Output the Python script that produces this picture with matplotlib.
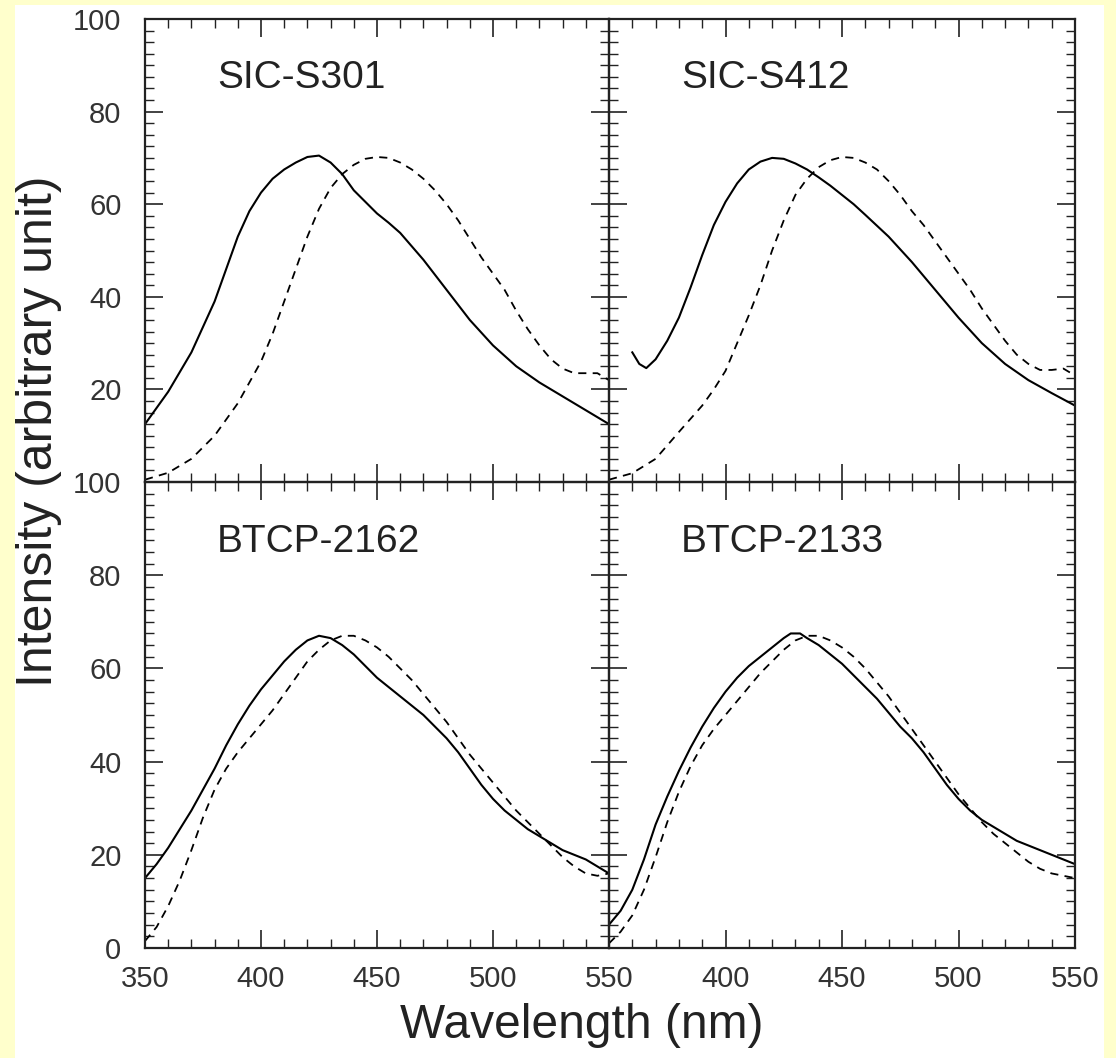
import matplotlib
matplotlib.use('Agg')
import matplotlib.pyplot as plt
from matplotlib.ticker import MultipleLocator
from matplotlib.patches import Rectangle

plt.rcParams['font.family'] = ['Liberation Sans', 'DejaVu Sans']

# espectros (comprimento de onda em nm, intensidade)
# SIC-S301
wl_s301 = [350, 360, 370, 380, 385, 390, 395, 400, 405, 410, 415, 420, 425,
           430, 435, 440, 445, 450, 455, 460, 470, 480, 490, 500, 510, 520,
           530, 540, 550]
em_s301 = [12.5, 19.5, 28, 39, 46, 53, 58.5, 62.5, 65.5, 67.5, 69, 70.2, 70.5,
           69, 66.5, 63, 60.5, 58, 56, 53.8, 48, 41.5, 35, 29.5, 25, 21.5,
           18.5, 15.5, 12.5]
wl_s301_d = [350, 360, 370, 380, 390, 400, 405, 410, 415, 420, 425, 430, 435,
             440, 445, 450, 455, 460, 465, 470, 475, 480, 485, 490, 495, 500,
             505, 510, 515, 520, 525, 530, 535, 540, 545, 550]
ex_s301 = [0.5, 2, 5, 10, 17, 26, 32, 39, 46, 53, 59, 63.5, 66.5,
           68.5, 69.8, 70.2, 70, 69, 67.5, 65.5, 63, 60, 56.5, 52.5, 48.5, 45,
           41.5, 37, 33, 29.5, 26.5, 24.5, 23.5, 23.5, 23.5, 22]

# SIC-S412
wl_s412 = [360, 363, 366, 370, 375, 380, 385, 390, 395, 400, 405, 410, 415,
           420, 425, 430, 435, 440, 445, 450, 455, 460, 470, 480, 490, 500,
           510, 520, 530, 540, 550]
em_s412 = [28, 25.5, 24.6, 26.5, 30.5, 35.5, 42, 49, 55.5, 60.5, 64.5, 67.5, 69.2,
           70, 69.8, 68.8, 67.5, 65.8, 64, 62, 60, 57.7, 53, 47.5, 41.5, 35.5,
           30, 25.5, 22, 19.2, 16.5]
wl_s412_d = [350, 360, 370, 380, 390, 395, 400, 405, 410, 415, 420, 425, 430,
             435, 440, 445, 450, 455, 460, 465, 470, 475, 480, 485, 490, 495,
             500, 505, 510, 515, 520, 525, 530, 535, 540, 545, 550]
ex_s412 = [0.5, 1.9, 5, 10.8, 16.5, 20, 24, 30, 36, 42.5, 50, 56.5, 62,
           65.5, 68, 69.5, 70.2, 70, 69, 67.5, 65, 62, 58.5, 55.5, 52, 48.5,
           45, 41.5, 37.5, 34, 30.5, 27.5, 25.5, 24.2, 24.2, 24.5, 23]

# BTCP-2162
wl_2162 = [350, 355, 360, 365, 370, 375, 380, 385, 390, 395, 400, 405, 410,
           415, 420, 425, 430, 435, 440, 445, 450, 455, 460, 465, 470, 475,
           480, 485, 490, 495, 500, 505, 510, 515, 520, 525, 530, 535, 540,
           545, 550]
em_2162 = [15, 18, 21.5, 25.5, 29.5, 34, 38.5, 43.5, 48, 52, 55.5, 58.5, 61.5,
           64, 66, 67, 66.5, 65, 63, 60.5, 58, 56, 54, 52, 50, 47.5,
           45, 42, 38.5, 35, 32, 29.5, 27.5, 25.5, 24, 22.5, 21, 20, 19,
           17.5, 16]
wl_2162_d = wl_2162
ex_2162 = [1.5, 4.5, 9, 14.5, 21, 28, 34, 38.5, 42, 45, 48, 51, 54.5,
           58, 61.5, 64, 66, 67, 67, 66, 64.5, 62.5, 60, 57.5, 54.5, 51.5,
           48.5, 45, 41.5, 38.5, 35.5, 32.5, 29.5, 27, 24.5, 22, 19.5, 17.5, 16,
           15.5, 16]

# BTCP-2133
wl_2133 = [350, 355, 360, 365, 370, 375, 380, 385, 390, 395, 400, 405, 410,
           415, 420, 425, 428, 432, 435, 440, 445, 450, 455, 460, 465, 470,
           475, 480, 485, 490, 495, 500, 505, 510, 515, 520, 525, 530, 535,
           540, 545, 550]
em_2133 = [5, 8, 12.5, 19, 26.5, 32.5, 38, 43, 47.5, 51.5, 55, 58, 60.5,
           62.5, 64.5, 66.5, 67.5, 67.5, 66.5, 65, 63, 61, 58.5, 56, 53.5, 50.5,
           47.5, 45, 42, 38.5, 35, 32, 29.5, 27.5, 26, 24.5, 23, 22, 21,
           20, 19, 18]
wl_2133_d = wl_2162
ex_2133 = [1, 3.5, 7, 12.5, 19.5, 27, 33.5, 39, 43.5, 47, 50, 53, 56,
           59, 61.5, 64, 66, 67, 67, 66, 64.5, 62.5, 60, 57, 54, 50.5,
           47, 43.5, 40, 36.5, 33, 30, 27, 24.5, 22.5, 20.5, 18.5, 17, 16,
           15.5, 15]

nomes = ['SIC-S301', 'SIC-S412', 'BTCP-2162', 'BTCP-2133']
solidas = [(wl_s301, em_s301), (wl_s412, em_s412),
           (wl_2162, em_2162), (wl_2133, em_2133)]
tracejadas = [(wl_s301_d, ex_s301), (wl_s412_d, ex_s412),
              (wl_2162_d, ex_2162), (wl_2133_d, ex_2133)]

fig = plt.figure(figsize=(11.16, 10.58), dpi=100, facecolor='#FFFFCC')
fig.patches.append(Rectangle((15 / 1116, 0), 1089 / 1116, 1053 / 1058,
                             transform=fig.transFigure, facecolor='white',
                             edgecolor='none', zorder=-10))

# posicoes dos paineis (em fracao da figura)
x0, xm, x1 = 145 / 1116, 609 / 1116, 1075 / 1116
y1, ym, y0 = 1 - 19 / 1058, 1 - 482 / 1058, 1 - 948 / 1058
caixas = [[x0, ym, xm - x0, y1 - ym], [xm, ym, x1 - xm, y1 - ym],
          [x0, y0, xm - x0, ym - y0], [xm, y0, x1 - xm, ym - y0]]

for i in range(4):
    ax = fig.add_axes(caixas[i])
    ax.set_zorder(2)
    ax.set_facecolor('none')
    ax.plot(*solidas[i], color='black', lw=1.5)
    ax.plot(*tracejadas[i], color='black', lw=1.3, linestyle=(0, (4.5, 3.5)))
    ax.set_xlim(350, 550)
    ax.set_ylim(0, 100)
    ax.xaxis.set_major_locator(MultipleLocator(50))
    ax.xaxis.set_minor_locator(MultipleLocator(10))
    ax.yaxis.set_major_locator(MultipleLocator(20))
    ax.yaxis.set_minor_locator(MultipleLocator(2.5))
    ax.tick_params(which='both', direction='in', top=True, right=True,
                   colors='#222222', labelcolor='#333333', labelsize=21)
    ax.tick_params(which='major', length=13, width=1.2)
    ax.tick_params(which='minor', length=6.5, width=1.0)
    ax.tick_params(axis='y', pad=17)
    ax.tick_params(axis='x', pad=12)
    for s in ax.spines.values():
        s.set_linewidth(1.6)
        s.set_color('#222222')
    ax.text(0.155, 0.85, nomes[i], transform=ax.transAxes, fontsize=28,
            color='#222222')

    if i in (1, 3):
        ax.set_yticklabels([])
    elif i == 0:
        ax.set_yticks([0, 20, 40, 60, 80, 100],
                      ['', '20', '40', '60', '80', '100'])
    if i in (0, 1):
        ax.set_xticklabels([])
    elif i == 3:
        ax.set_xticks([350, 400, 450, 500, 550],
                      ['', '400', '450', '500', '550'])

fig.text(39 / 1116, 1 - 431 / 1058, 'Intensity (arbitrary unit)',
         rotation=90, ha='center', va='center', fontsize=36, color='#222222')
fig.text(582 / 1116, 1 - 1038 / 1058, 'Wavelength (nm)',
         ha='center', va='baseline', fontsize=34.5, color='#222222')

fig.savefig('out.png', dpi=100, facecolor=fig.get_facecolor())
